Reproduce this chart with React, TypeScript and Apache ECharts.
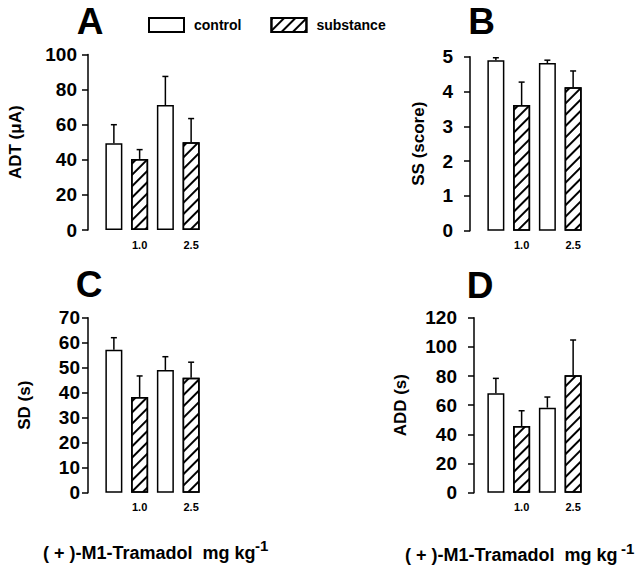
import React, { useEffect, useRef } from "react";
import * as echarts from "echarts";

// ---- data ----
const categories = ["", "1.0", " ", "2.5"];
const seriesNames = ["control", "substance"];

// Panel A: ADT (µA)
const adtControl = [49.5, 71.2];
const adtControlSem = [10.5, 16.3];
const adtSubstance = [40.5, 50.0];
const adtSubstanceSem = [5.3, 13.5];

// Panel B: SS (score)
const ssControl = [4.9, 4.82];
const ssControlSem = [0.07, 0.08];
const ssSubstance = [3.61, 4.12];
const ssSubstanceSem = [0.66, 0.47];

// Panel C: SD (s)
const sdControl = [57.2, 49.1];
const sdControlSem = [4.8, 5.3];
const sdSubstance = [38.3, 46.0];
const sdSubstanceSem = [8.4, 6.2];

// Panel D: ADD (s)
const addControl = [68.2, 58.3];
const addControlSem = [10.2, 7.3];
const addSubstance = [45.7, 80.5];
const addSubstanceSem = [10.5, 24.2];

const panelLetters = ["A", "B", "C", "D"];
const yTitles = ["ADT (\u03bcA)", "SS (score)", "SD (s)", "ADD (s)"];
const yMax = [100, 5, 70, 120];
const yInterval = [20, 1, 10, 20];
const xTitle = "( + )-M1-Tramadol  mg kg";
const xTitleSup = "-1";

const FONT = "'Liberation Sans', Arial, Helvetica, sans-serif";

const panels = [
  { c: adtControl, cs: adtControlSem, s: adtSubstance, ss: adtSubstanceSem },
  { c: ssControl, cs: ssControlSem, s: ssSubstance, ss: ssSubstanceSem },
  { c: sdControl, cs: sdControlSem, s: sdSubstance, ss: sdSubstanceSem },
  { c: addControl, cs: addControlSem, s: addSubstance, ss: addSubstanceSem },
];

// layout
const grids = [
  { left: 101, top: 54.5, width: 103, height: 175.5 },
  { left: 483, top: 56.7, width: 103, height: 174 },
  { left: 101, top: 317.7, width: 103, height: 175 },
  { left: 483, top: 317.7, width: 103, height: 175 },
];
const yOffsets = [13, 13, 13, 9];
const yLabelMargins = [11, 17, 8, 17];
const yNameGaps = [64, 43, 55, 65];
const letterPos = [
  [90, 21.5],
  [481.7, 21],
  [89, 284.5],
  [480, 285.5],
];

const hatch = {
  symbol: "rect",
  symbolSize: 1,
  color: "#000",
  backgroundColor: "#fff",
  dashArrayX: [1, 0],
  dashArrayY: [1.8, 5.2],
  rotation: -Math.PI / 4,
};

export default function App() {
  const ref = useRef<HTMLDivElement>(null);
  useEffect(() => {
    if (!ref.current) return;
    const chart = echarts.init(ref.current, null, { renderer: "svg" });

    const xAxis: any[] = [];
    const yAxis: any[] = [];
    const series: any[] = [];

    panels.forEach((p, i) => {
      xAxis.push({
        type: "category",
        gridIndex: i,
        data: categories,
        axisLine: { show: false },
        axisTick: { show: false },
        axisLabel: {
          color: "#000",
          fontFamily: FONT,
          fontWeight: "bold",
          fontSize: 11,
          margin: 9,
          interval: 0,
        },
      });
      yAxis.push({
        type: "value",
        gridIndex: i,
        min: 0,
        max: yMax[i],
        interval: yInterval[i],
        offset: yOffsets[i],
        splitLine: { show: false },
        axisLine: { show: true, lineStyle: { color: "#000", width: 1.5 } },
        axisTick: { show: true, length: 6, lineStyle: { color: "#000", width: 1.5 } },
        axisLabel: {
          color: "#000",
          fontFamily: FONT,
          fontWeight: "bold",
          fontSize: 19,
          margin: yLabelMargins[i],
        },
        name: yTitles[i],
        nameLocation: "middle",
        nameRotate: 90,
        nameGap: yNameGaps[i],
        nameTextStyle: {
          color: "#000",
          fontFamily: FONT,
          fontWeight: "bold",
          fontSize: 17,
        },
      });
      const ctrlData = [p.c[0], "-", p.c[1], "-"];
      const subData = ["-", p.s[0], "-", p.s[1]];
      series.push({
        type: "bar",
        name: seriesNames[0],
        xAxisIndex: i,
        yAxisIndex: i,
        data: ctrlData,
        barWidth: 17,
        barGap: "-100%",
        itemStyle: { color: "#fff", borderColor: "#000", borderWidth: 1.5 },
        emphasis: { disabled: true },
      });
      series.push({
        type: "bar",
        name: seriesNames[1],
        xAxisIndex: i,
        yAxisIndex: i,
        data: subData,
        barWidth: 17,
        barGap: "-100%",
        itemStyle: {
          color: "#fff",
          borderColor: "#000",
          borderWidth: 1.5,
          decal: hatch,
        },
        emphasis: { disabled: true },
      });
      const errData = [
        [0, p.c[0], p.c[0] + p.cs[0]],
        [1, p.s[0], p.s[0] + p.ss[0]],
        [2, p.c[1], p.c[1] + p.cs[1]],
        [3, p.s[1], p.s[1] + p.ss[1]],
      ];
      series.push({
        type: "custom",
        xAxisIndex: i,
        yAxisIndex: i,
        data: errData,
        z: 5,
        renderItem: (params: any, api: any) => {
          const x = api.value(0);
          const base = api.coord([x, api.value(1)]);
          const top = api.coord([x, api.value(2)]);
          const w = 3;
          return {
            type: "group",
            children: [
              {
                type: "line",
                shape: { x1: base[0], y1: base[1], x2: top[0], y2: top[1] },
                style: { stroke: "#000", lineWidth: 1.5 },
              },
              {
                type: "line",
                shape: { x1: top[0] - w, y1: top[1], x2: top[0] + w, y2: top[1] },
                style: { stroke: "#000", lineWidth: 1.5 },
              },
            ],
          };
        },
      });
    });

    const graphic: any[] = panelLetters.map((l, i) => ({
      type: "text",
      x: letterPos[i][0],
      y: letterPos[i][1],
      style: {
        text: l,
        font: `bold 37px ${FONT}`,
        fill: "#000",
        textAlign: "center",
        textVerticalAlign: "middle",
      },
    }));
    const xt = [
      { x: 43, y: 552.5, sx: 255, sy: 545 },
      { x: 405, y: 555, sx: 621, sy: 548 },
    ];
    xt.forEach((t) => {
      graphic.push({
        type: "text",
        x: t.x,
        y: t.y,
        style: {
          text: xTitle,
          font: `bold 18px ${FONT}`,
          fill: "#000",
          textAlign: "left",
          textVerticalAlign: "middle",
        },
      });
      graphic.push({
        type: "text",
        x: t.sx,
        y: t.sy,
        style: {
          text: xTitleSup,
          font: `bold 15px ${FONT}`,
          fill: "#000",
          textAlign: "left",
          textVerticalAlign: "middle",
        },
      });
    });

    chart.setOption({
      animation: false,
      backgroundColor: "#fff",
      legend: {
        data: seriesNames,
        left: 148,
        top: 17,
        itemWidth: 35,
        itemHeight: 14,
        itemGap: 29,
        selectedMode: false,
        icon: "rect",
        padding: 0,
        textStyle: {
          color: "#000",
          fontFamily: FONT,
          fontWeight: "bold",
          fontSize: 14,
          padding: [0, 0, 0, 5],
        },
      },
      grid: grids.map((g) => ({ ...g, containLabel: false })),
      xAxis,
      yAxis,
      series,
      graphic,
    });
    return () => chart.dispose();
  }, []);
  return (
    <div
      ref={ref}
      style={{ position: "fixed", left: 0, top: 0, width: 640, height: 567, background: "#fff" }}
    />
  );
}
